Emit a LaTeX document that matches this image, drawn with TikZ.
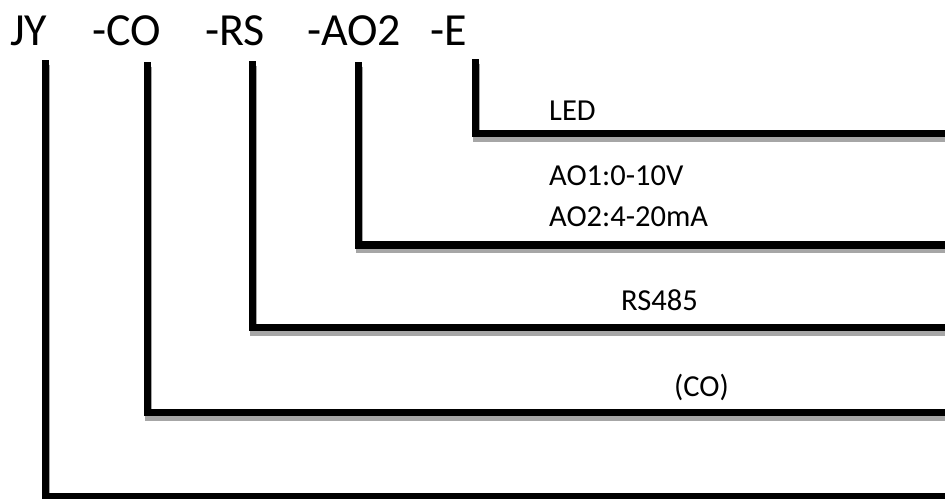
\documentclass[tikz,border=0pt]{standalone}
\usepackage{fontspec}
\setmainfont{Carlito}
\begin{document}
\begin{tikzpicture}[x=1pt,y=-1pt,
  head/.style={anchor=base west,inner sep=0pt,font=\fontsize{46}{50}\selectfont},
  lbl/.style={anchor=base west,inner sep=0pt,font=\fontsize{30.5}{34}\selectfont},
  wire/.style={line width=7.5pt,line cap=butt,line join=miter,black},
  shade/.style={line width=7.5pt,line cap=butt,line join=miter,color={rgb,255:red,166;green,166;blue,166}}]
\useasboundingbox (0,0) rectangle (945,498);
\clip (0,0) rectangle (945,498);
% header codes
\node[head] (jy) at (10,45) {JY};
\node[head] (co) at (92,45) {-CO};
\node[head] (rs) at (205,45) {-RS};
\node[head] (ao) at (307,45) {-AO2};
\node[head] (ee) at (430,45) {-E};
% labels
\node[lbl] (led) at (549,120) {LED};
\node[lbl] (ao1) at (549,185.3) {AO1:0-10V};
\node[lbl] (ao2) at (549,226.7) {AO2:4-20mA};
\node[lbl] (rs485) at (621,310.7) {RS485};
\node[lbl] (cogas) at (674,396.5) {(CO)};
% wire tops and ends
\coordinate (t1) at (45.5,60);   \coordinate (r1) at (960,496.3);
\coordinate (t2) at (147.7,62);  \coordinate (r2) at (960,412.7);
\coordinate (t3) at (252.5,61);  \coordinate (r3) at (960,327.7);
\coordinate (t4) at (358.7,62);  \coordinate (r4) at (960,245);
\coordinate (t5) at (475.5,59);  \coordinate (r5) at (960,133.7);
% shadows
\foreach \i in {1,...,5}{
  \draw[shade,transform canvas={xshift=1pt,yshift=-4.5pt}] (t\i) |- (r\i);
}
% wires
\foreach \i in {1,...,5}{
  \draw[wire] (t\i) |- (r\i);
}
\end{tikzpicture}
\end{document}
